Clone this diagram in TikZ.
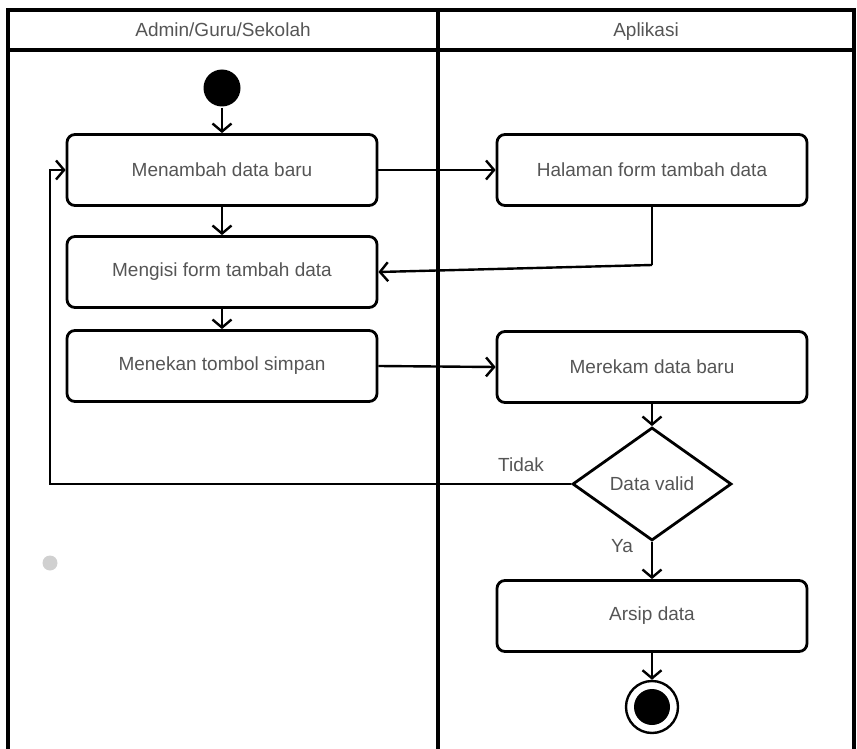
\documentclass[tikz,border=0pt]{standalone}
\usepackage{fontspec}
\setmainfont{Liberation Sans}
\usetikzlibrary{arrows.meta}
\usetikzlibrary{shapes.geometric}
\definecolor{txtgray}{HTML}{555555}
\definecolor{dotgray}{HTML}{D0D0D0}

\begin{document}
\begin{tikzpicture}[x=1pt,y=-1pt,line width=2.8pt,
  font=\fontsize{19}{22}\selectfont,
  act/.style={draw,rounded corners=8pt,minimum width=310pt,minimum height=71pt,inner sep=0pt,text=txtgray},
  decision/.style={draw,diamond,minimum width=159pt,minimum height=113pt,inner sep=0pt,text=txtgray},
  flow/.style={-{Straight Barb[length=8pt,width=19pt,line width=2.4pt]},line width=2.4pt},
  lbl/.style={text=txtgray},
  lane/.style={text=txtgray,anchor=base}]
  \useasboundingbox (0,0) rectangle (857,749);
  % swimlanes
  \draw[line width=3.2pt] (8,749) -- (8,10) -- (854,10) -- (854,749);
  \draw[line width=3.2pt] (8,50) -- (854,50);
  \draw[line width=3.2pt] (438,10) -- (438,749);
  \node[lane] (lane1) at (223,37) {Admin/Guru/Sekolah};
  \node[lane] (lane2) at (646,37) {Aplikasi};
  % nodes
  \node[circle,fill=black,minimum size=37pt,inner sep=0pt] (start) at (222,88) {};
  \node[act] (tambah) at (222,170) {Menambah data baru};
  \node[act] (isi) at (222,272) {Mengisi form tambah data};
  \node[act] (simpan) at (222,366) {Menekan tombol simpan};
  \node[act] (halaman) at (652,170) {Halaman form tambah data};
  \node[act] (rekam) at (652,367) {Merekam data baru};
  \node[decision] (valid) at (652,484) {Data valid};
  \node[act] (arsip) at (652,616) {Arsip data};
  \node[circle,draw,line width=2.4pt,fill=white,minimum size=52pt,inner sep=0pt] (end) at (652,707) {};
  \node[circle,fill=black,minimum size=36pt,inner sep=0pt] (endin) at (end) {};
  \node[circle,fill=dotgray,minimum size=15pt,inner sep=0pt] (dot) at (50,563) {};
  \coordinate (back) at (50,484);
  \coordinate (turn) at (652,265);
  % connectors
  \draw[flow] (start) -- (tambah);
  \draw[flow] (tambah) -- (isi);
  \draw[flow] (isi) -- (simpan);
  \draw[flow] (tambah) -- (halaman);
  \draw[line width=2.4pt] (halaman.south) -- (turn);
  \draw[flow] (turn) -- (isi.east);
  \draw[flow] (simpan.east) -- (rekam.west);
  \draw[flow] (rekam) -- (valid);
  \draw[flow] (valid.west) -- (back) |- (tambah.west);
  \draw[flow] (valid) -- (arsip);
  \draw[flow] (arsip) -- (end);
  \node[lbl] (tidak) at (521,465) {Tidak};
  \node[lbl] (ya) at (622,546) {Ya};
\end{tikzpicture}
\end{document}
